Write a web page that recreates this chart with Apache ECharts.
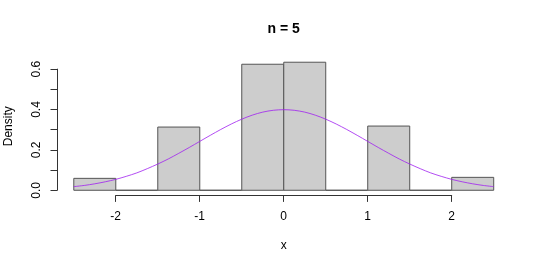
<!DOCTYPE html>
<html>
<head>
<meta charset="utf-8">
<script src="https://cdn.jsdelivr.net/npm/echarts@6/dist/echarts.min.js"></script>
<style>
html,body{margin:0;padding:0;background:#fff;}
#chart{width:540px;height:267px;}
</style>
</head>
<body>
<div id="chart"></div>
<script>
// Histogram bins (breaks) and densities
var breaks = [-2.5, -2, -1.5, -1, -0.5, 0, 0.5, 1, 1.5, 2, 2.5];
var densities = [0.059, 0, 0.313, 0, 0.624, 0.634, 0, 0.318, 0, 0.064];
// Density curve points (x, y)
var curveX = [-2.5, -2.375, -2.25, -2.125, -2, -1.875, -1.75, -1.625, -1.5, -1.375, -1.25, -1.125, -1, -0.875, -0.75, -0.625, -0.5, -0.375, -0.25, -0.125, 0,
              0.125, 0.25, 0.375, 0.5, 0.625, 0.75, 0.875, 1, 1.125, 1.25, 1.375, 1.5, 1.625, 1.75, 1.875, 2, 2.125, 2.25, 2.375, 2.5];
var curveY = [0.018, 0.024, 0.032, 0.042, 0.054, 0.069, 0.086, 0.107, 0.130, 0.155, 0.183, 0.212, 0.242, 0.272, 0.301, 0.328, 0.352, 0.372, 0.387, 0.396, 0.399,
              0.396, 0.387, 0.372, 0.352, 0.328, 0.301, 0.272, 0.242, 0.212, 0.183, 0.155, 0.130, 0.107, 0.086, 0.069, 0.054, 0.042, 0.032, 0.024, 0.018];
var xTicks = [-2, -1, 0, 1, 2];
var yTicks = [0, 0.1, 0.2, 0.3, 0.4, 0.5, 0.6];
var titleText = 'n = 5';
var xName = 'x';
var yName = 'Density';

var histData = [];
for (var i = 0; i < densities.length; i++) {
  histData.push([breaks[i], breaks[i + 1], densities[i]]);
}
var curveData = curveX.map(function (x, i) { return [x, curveY[i]]; });

var FONT = '"Liberation Sans", Arial, Helvetica, sans-serif';
var axisColor = '#333';

var chart = echarts.init(document.getElementById('chart'), null, {renderer: 'canvas'});
chart.setOption({
  animation: false,
  backgroundColor: '#fff',
  title: {
    text: titleText, left: 283.7, top: 22, padding: 0, textAlign: 'center',
    textStyle: {fontFamily: FONT, fontSize: 14, fontWeight: 'bold', color: '#000'}
  },
  grid: [
    {left: 57, right: 29.5, top: 57.1, bottom: 71.6, containLabel: false, outerBoundsMode: 'none'},
    {left: 115.7, width: 336, top: 195.4, height: 1, containLabel: false, outerBoundsMode: 'none'},
    {left: 57, width: 1, top: 69.1, height: 121.2, containLabel: false, outerBoundsMode: 'none'}
  ],
  xAxis: [
    {gridIndex: 0, type: 'value', min: -2.7, max: 2.7, show: true,
     axisLine: {show: false}, axisTick: {show: false}, axisLabel: {show: false}, splitLine: {show: false},
     name: xName, nameLocation: 'middle', nameGap: 44,
     nameTextStyle: {fontFamily: FONT, fontSize: 12, color: '#000'}},
    {gridIndex: 1, type: 'value', min: xTicks[0], max: xTicks[xTicks.length - 1], interval: 1,
     position: 'top',
     axisLine: {show: true, onZero: false, lineStyle: {color: axisColor, width: 1}},
     axisTick: {show: true, inside: true, length: 6.5, lineStyle: {color: axisColor}},
     axisLabel: {show: false}, splitLine: {show: false}},
    {gridIndex: 2, type: 'value', show: false, min: 0, max: 1}
  ],
  yAxis: [
    {gridIndex: 0, type: 'value', min: -0.0254, max: 0.6594, show: true,
     axisLine: {show: false}, axisTick: {show: false}, axisLabel: {show: false}, splitLine: {show: false},
     name: yName, nameLocation: 'middle', nameGap: 42.5,
     nameTextStyle: {fontFamily: FONT, fontSize: 12, color: '#000'}},
    {gridIndex: 1, type: 'value', show: false, min: 0, max: 1},
    {gridIndex: 2, type: 'value', min: yTicks[0], max: yTicks[yTicks.length - 1], interval: 0.1,
     axisLine: {show: true, onZero: false, lineStyle: {color: axisColor, width: 1}},
     axisTick: {show: true, length: 6.5, lineStyle: {color: axisColor}},
     axisLabel: {show: true, rotate: 90, margin: 14, fontFamily: FONT, fontSize: 12, color: '#000',
       formatter: function (v) { var k = Math.round(v * 10); return k % 2 === 0 ? (k / 10).toFixed(1) : ''; }},
     splitLine: {show: false}}
  ],
  series: [
    {
      type: 'custom', xAxisIndex: 0, yAxisIndex: 0, data: histData, z: 2,
      renderItem: function (params, api) {
        var p0 = api.coord([api.value(0), api.value(2)]);
        var p1 = api.coord([api.value(1), 0]);
        return {
          type: 'rect',
          shape: {x: p0[0], y: p0[1], width: p1[0] - p0[0], height: p1[1] - p0[1]},
          style: {fill: '#cdcdcd', stroke: '#555', lineWidth: 1}
        };
      }
    },
    {
      type: 'line', xAxisIndex: 0, yAxisIndex: 0, data: curveData, smooth: 0.3, z: 3,
      showSymbol: false, symbol: 'none',
      lineStyle: {color: '#a020f0', width: 1, opacity: 0.8}
    },
    {
      type: 'custom', xAxisIndex: 1, yAxisIndex: 1, z: 4,
      data: xTicks.map(function (t) { return [t]; }),
      renderItem: function (params, api) {
        var p = api.coord([api.value(0), 0]);
        return {
          type: 'text',
          style: {text: String(api.value(0)), x: p[0], y: 216.7, align: 'center', verticalAlign: 'middle',
                  font: '12px ' + FONT, fill: '#000'}
        };
      }
    }
  ]
});
</script>
</body>
</html>
